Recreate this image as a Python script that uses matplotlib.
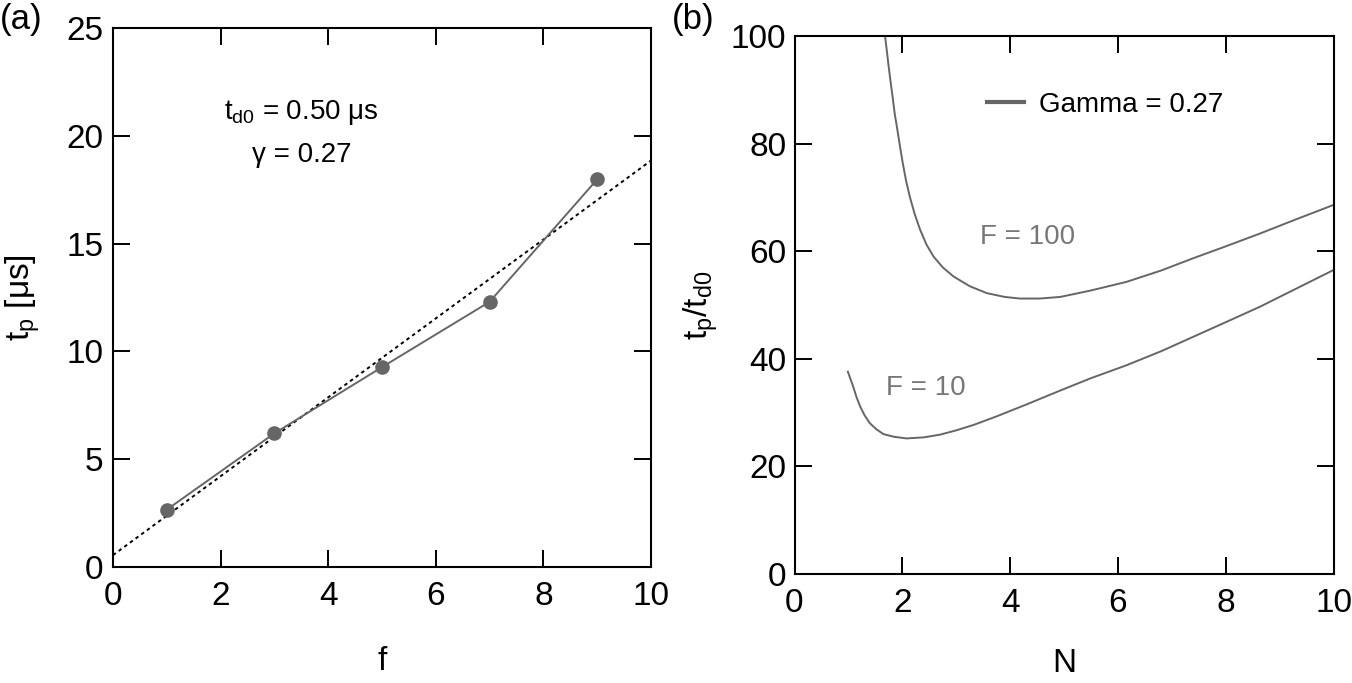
import matplotlib
matplotlib.use("Agg")
import matplotlib.pyplot as plt

plt.rcParams['font.family'] = ['Liberation Sans', 'DejaVu Sans']
plt.rcParams['mathtext.fontset'] = 'custom'
plt.rcParams['mathtext.rm'] = 'Liberation Sans'
plt.rcParams['mathtext.it'] = 'Liberation Sans'

# ---- Panel (a) data ----
f_vals = [1, 3, 5, 7, 9]
tp_vals = [2.66, 6.2, 9.27, 12.3, 17.98]
fit_x = [0, 10]
fit_y = [0.55, 18.85]

# ---- Panel (b) data ----
N_F100 = [1.68, 1.71, 1.74, 1.78, 1.82, 1.86, 1.91, 1.96, 2.01, 2.07, 2.14, 2.23, 2.33,
          2.45, 2.58, 2.75, 2.95, 3.25, 3.57, 3.9, 4.18, 4.55, 4.93, 5.5, 6.16, 6.8,
          7.4, 8.0, 8.64, 9.3, 10.0]
R_F100 = [100, 97.5, 94.9, 91.7, 88.7, 85.5, 82.5, 79.3, 76.3, 73.1, 70.1, 66.9, 64.0,
          61.2, 59.0, 57.0, 55.3, 53.5, 52.2, 51.5, 51.2, 51.2, 51.5, 52.7, 54.3, 56.4,
          58.7, 60.9, 63.3, 65.9, 68.6]
N_F10 = [0.99, 1.04, 1.09, 1.15, 1.22, 1.30, 1.40, 1.52, 1.65, 1.85, 2.08, 2.4, 2.7,
         3.0, 3.32, 3.75, 4.3, 4.93, 5.5, 6.16, 6.8, 7.4, 8.0, 8.64, 9.3, 10.0]
R_F10 = [37.6, 36.2, 34.8, 32.9, 31.1, 29.5, 28.0, 26.9, 26.0, 25.5, 25.2, 25.4, 25.9,
         26.7, 27.7, 29.3, 31.5, 34.1, 36.4, 38.8, 41.4, 44.1, 46.8, 49.7, 53.0, 56.5]

W, H = 1352, 683
fig = plt.figure(figsize=(W / 100, H / 100), dpi=100)

gray = '#666666'
label_gray = '#777777'
tick_fs = 24
txt_fs = 20

def style(ax, ypad):
    for s in ax.spines.values():
        s.set_linewidth(1.5)
    ax.tick_params(direction='in', length=12.5, width=1.4, top=True, right=True,
                   labelsize=tick_fs)
    ax.tick_params(axis='x', pad=10)
    ax.tick_params(axis='y', pad=ypad)

# Panel (a)
L1, R1, T1, B1 = 113, 651, 28, 567
ax1 = fig.add_axes([L1 / W, 1 - B1 / H, (R1 - L1) / W, (B1 - T1) / H])
ax1.plot(fit_x, fit_y, color='black', linestyle=(0, (1.8, 1.8)), linewidth=1.4)
ax1.plot(f_vals, tp_vals, color=gray, linewidth=1.4, marker='o', markersize=9.5,
         markerfacecolor=gray, markeredgecolor=gray)
ax1.set_xlim(0, 10)
ax1.set_ylim(0, 25)
ax1.set_xticks([0, 2, 4, 6, 8, 10])
ax1.set_yticks([0, 5, 10, 15, 20, 25])
style(ax1, 7)
ax1.set_xlabel('f', fontsize=tick_fs, va='top')
ax1.xaxis.set_label_coords(0.5, -(646 - B1) / (B1 - T1))
ax1.set_ylabel(r'$\mathregular{t_p}$ [μs]', fontsize=tick_fs)
ax1.yaxis.set_label_coords((42 - L1) / (R1 - L1), 0.5)
ax1.text(3.5, 21.07, r'$\mathregular{t_{d0}}$ = 0.50 μs', fontsize=txt_fs, ha='center', va='center')
ax1.text(3.5, 19.1, 'γ = 0.27', fontsize=txt_fs, ha='center', va='center')

# Panel (b)
L2, R2, T2, B2 = 794.5, 1333.5, 36, 574
ax2 = fig.add_axes([L2 / W, 1 - B2 / H, (R2 - L2) / W, (B2 - T2) / H])
ax2.plot(N_F100, R_F100, color=gray, linewidth=1.4, label='Gamma = 0.27')
ax2.plot(N_F10, R_F10, color=gray, linewidth=1.4)
ax2.set_xlim(0, 10)
ax2.set_ylim(0, 100)
ax2.set_xticks([0, 2, 4, 6, 8, 10])
ax2.set_yticks([0, 20, 40, 60, 80, 100])
style(ax2, 6)
ax2.set_xlabel('N', fontsize=tick_fs, va='top')
ax2.xaxis.set_label_coords(0.5, -(648 - B2) / (B2 - T2))
ax2.set_ylabel(r'$\mathregular{t_p/t_{d0}}$', fontsize=tick_fs)
ax2.yaxis.set_label_coords((720 - L2) / (R2 - L2), 0.5)
leg = ax2.legend(loc='center left', bbox_to_anchor=((987 - L2) / (R2 - L2), (B2 - 104.5) / (B2 - T2)),
                 frameon=False, fontsize=txt_fs, handlelength=1.33, handletextpad=0.54,
                 borderpad=0, borderaxespad=0)
for l in leg.get_lines():
    l.set_linewidth(3)
ax2.text(4.32, 62.6, 'F = 100', fontsize=txt_fs, color=label_gray, ha='center', va='center')
ax2.text(2.43, 34.6, 'F = 10', fontsize=txt_fs, color=label_gray, ha='center', va='center')

fig.text(0 / W, 1 - 20 / H, '(a)', fontsize=25, ha='left', va='center')
fig.text(672 / W, 1 - 20 / H, '(b)', fontsize=25, ha='left', va='center')

fig.savefig('out.png', dpi=100)
